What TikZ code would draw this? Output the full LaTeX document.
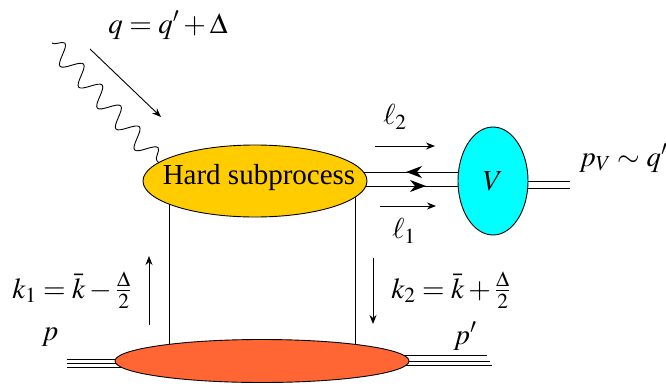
\documentclass[tikz,border=0pt]{standalone}
\usepackage{mathptmx}
\usepackage[no-math]{fontspec}
\setmainfont{Liberation Serif}
\usetikzlibrary{shapes.geometric,decorations.pathmorphing,arrows.meta,backgrounds}
\definecolor{hardyellow}{HTML}{FFCC00}
\definecolor{vcyan}{HTML}{00FFFF}
\definecolor{hadorange}{HTML}{FF6633}
\tikzset{
  blob/.style={ellipse, draw=black, line width=0.9pt, inner sep=0pt},
  lbl/.style={font=\fontsize{29}{35}\selectfont, inner sep=0pt},
  thin line/.style={line width=0.9pt},
  mom/.style={line width=0.9pt, -{Stealth[length=9pt,width=7pt]}},
  flow/.style={-{Stealth[length=16pt,width=12pt,inset=5pt]}, line width=0.9pt},
  photon/.style={line width=0.9pt, decorate, decoration={snake, segment length=28pt, amplitude=9.5pt}}
}
\begin{document}
\begin{tikzpicture}[x=1pt,y=-1pt]
\useasboundingbox (0,0) rectangle (666,383);
% blobs
\node[blob, fill=hardyellow, minimum width=224pt, minimum height=72pt] (hard) at (255,181) {};
\node[inner sep=0pt, font=\fontsize{29}{35}\selectfont] (hardtxt) at (259,178) {Hard subprocess};
\node[blob, fill=vcyan, minimum width=70pt, minimum height=108pt] (V) at (493,181) {};
\node[lbl] (Vl) at (V.center) {$V$};
\node[blob, fill=hadorange, minimum width=294pt, minimum height=43pt] (had) at (262,361) {};
% connector lines behind blobs
\begin{pgfonlayer}{background}
  \draw[thin line] (169,181) -- (169,361);
  \draw[thin line] (355,181) -- (355,361);
  \draw[thin line] (hard.center |- 0,172) -- (V.center |- 0,172);
  \draw[thin line] (hard.center |- 0,186) -- (V.center |- 0,186);
  \draw[thin line] (V.center |- 0,181) -- (570,181);
  \draw[thin line] (V.center |- 0,188) -- (570,188);
  \draw[thin line] (67,359) -- (had.center |- 0,359);
  \draw[thin line] (67,363) -- (had.center |- 0,363);
  \draw[thin line] (67,367) -- (had.center |- 0,367);
  \draw[thin line] (had.center |- 0,355) -- (487,355);
  \draw[thin line] (had.center |- 0,361) -- (490,361);
  \draw[thin line] (had.center |- 0,365) -- (492,365);
\end{pgfonlayer}
% flow arrows on the double line
\draw[flow] (423,172) -- (406,172);
\draw[flow] (409,186) -- (426,186);
% photon
\coordinate (ph0) at (52,43);
\draw[photon] (ph0) -- (159,163);
% momentum arrows
\draw[mom] (90,49) -- (161,117);
\draw[mom] (375,146) -- (435,146);
\draw[mom] (380,206) -- (436,206);
\draw[mom] (149,325) -- (149,256);
\draw[mom] (373,258) -- (373,324);
% labels
\node[lbl] (ql) at (168,25) {$q=q'+\Delta$};
\node[lbl] (l2) at (395,117) {$\ell_2$};
\node[lbl] (l1) at (404,231) {$\ell_1$};
\node[lbl, anchor=west] (pv) at (579,158) {$p_V\sim q'$};
\node[lbl] (k1) at (72,290) {$k_1=\bar{k}-\frac{\Delta}{2}$};
\node[lbl] (k2) at (451,290) {$k_2=\bar{k}+\frac{\Delta}{2}$};
\node[lbl] (p) at (50,337) {$p$};
\node[lbl] (pp) at (465,336) {$p'$};
\end{tikzpicture}
\end{document}
